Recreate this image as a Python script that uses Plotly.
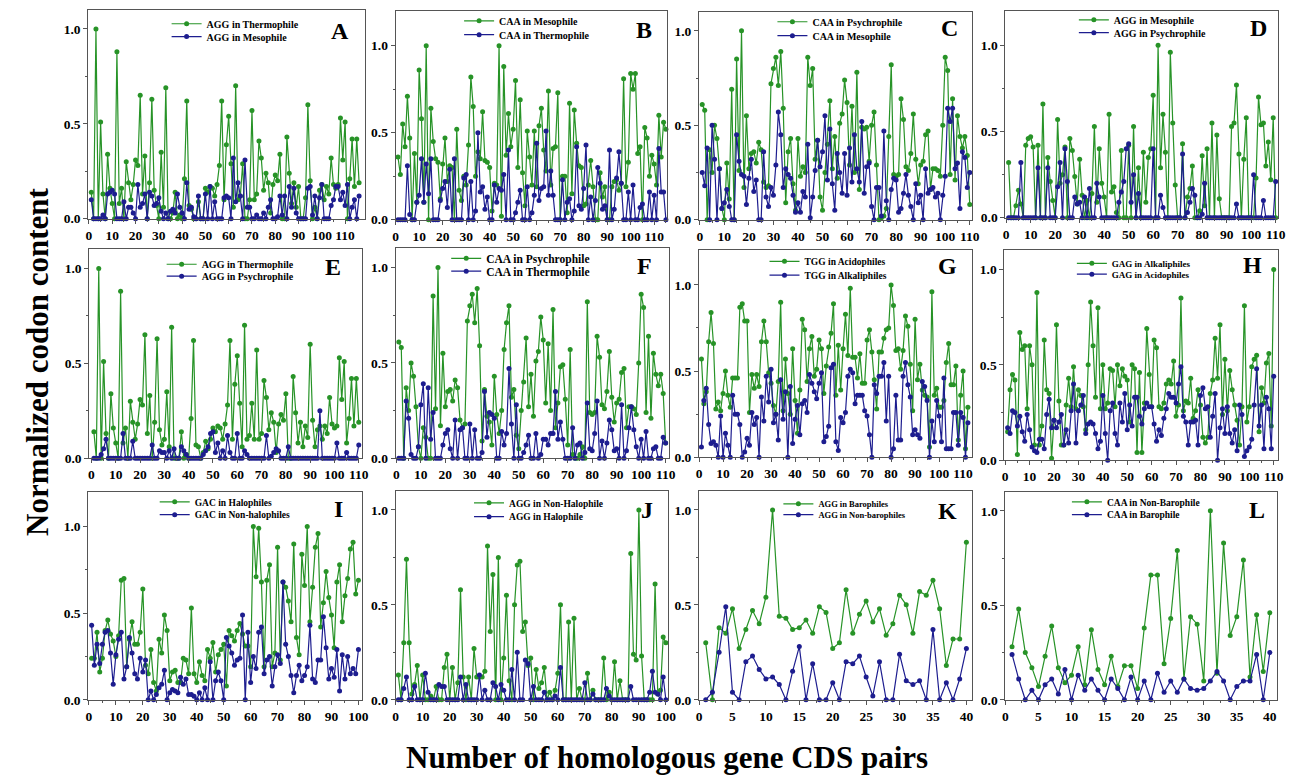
import plotly.graph_objects as go

W, H = 1299, 782

# ---------------- data ----------------
A_green = [0.14,0.0,1.0,0.0,0.51,0.13,0.0,0.34,0.16,0.08,0.0,0.88,0.08,0.16,0.0,0.30,0.19,0.10,0.18,0.31,
           0.28,0.65,0.13,0.33,0.0,0.19,0.63,0.15,0.07,0.0,0.35,0.06,0.69,0.0,0.0,0.03,0.14,0.0,0.02,0.0,
           0.21,0.62,0.07,0.05,0.0,0.0,0.09,0.0,0.0,0.16,0.14,0.17,0.16,0.12,0.18,0.28,0.62,0.10,0.39,0.54,
           0.29,0.06,0.70,0.10,0.12,0.29,0.0,0.0,0.10,0.57,0.10,0.13,0.41,0.32,0.15,0.24,0.19,0.03,0.18,0.23,
           0.20,0.34,0.0,0.0,0.43,0.24,0.08,0.19,0.06,0.17,0.0,0.0,0.11,0.60,0.20,0.0,0.06,0.0,0.15,0.18,
           0.10,0.17,0.13,0.32,0.18,0.16,0.18,0.53,0.31,0.51,0.0,0.21,0.42,0.17,0.42,0.19]
A_blue = [0.10,0.0,0.0,0.0,0.0,0.02,0.0,0.13,0.14,0.15,0.13,0.0,0.0,0.0,0.09,0.0,0.06,0.06,0.03,0.0,
          0.18,0.06,0.08,0.13,0.0,0.14,0.12,0.07,0.08,0.11,0.04,0.0,0.03,0.0,0.04,0.05,0.03,0.13,0.06,0.03,
          0.0,0.19,0.05,0.06,0.01,0.0,0.12,0.0,0.0,0.13,0.0,0.17,0.0,0.09,0.0,0.0,0.0,0.11,0.12,0.11,
          0.0,0.32,0.09,0.19,0.12,0.0,0.31,0.06,0.06,0.0,0.0,0.02,0.0,0.0,0.03,0.0,0.06,0.10,0.0,0.0,
          0.01,0.12,0.02,0.12,0.0,0.17,0.06,0.16,0.03,0.0,0.0,0.0,0.0,0.16,0.17,0.02,0.12,0.0,0.11,0.18,
          0.0,0.0,0.0,0.07,0.10,0.17,0.17,0.10,0.14,0.07,0.18,0.0,0.06,0.10,0.0,0.12]

B_green = [0.36,0.26,0.55,0.42,0.71,0.47,0.0,0.38,0.10,0.86,0.58,0.10,1.0,0.0,0.64,0.45,0.35,0.33,0.12,0.32,
           0.47,0.22,0.31,0.30,0.0,0.52,0.17,0.11,0.25,0.20,0.43,0.82,0.65,0.25,0.39,0.35,0.62,0.34,0.33,0.30,
           0.05,0.21,0.20,1.0,0.02,0.88,0.37,0.61,0.42,0.52,0.80,0.30,0.69,0.27,0.08,0.51,0.36,0.20,0.51,0.19,
           0.54,0.64,0.40,0.28,0.74,0.20,0.41,0.42,0.73,0.0,0.25,0.25,0.04,0.67,0.15,0.63,0.44,0.31,0.30,0.08,
           0.09,0.20,0.34,0.19,0.0,0.0,0.27,0.13,0.19,0.0,0.0,0.19,0.22,0.23,0.17,0.21,0.81,0.19,0.33,0.84,
           0.75,0.84,0.38,0.42,0.0,0.53,0.47,0.25,0.37,0.32,0.20,0.60,0.36,0.56,0.52]
B_blue = [0.0,0.0,0.0,0.0,0.31,0.03,0.0,0.0,0.10,0.14,0.35,0.10,0.32,0.15,0.35,0.0,0.0,0.0,0.11,0.18,
          0.22,0.07,0.29,0.0,0.35,0.0,0.0,0.0,0.24,0.26,0.0,0.22,0.0,0.05,0.50,0.16,0.19,0.06,0.13,0.0,
          0.0,0.20,0.10,0.18,0.17,0.26,0.0,0.40,0.0,0.0,0.04,0.10,0.17,0.0,0.0,0.19,0.0,0.04,0.14,0.44,
          0.11,0.18,0.19,0.51,0.14,0.28,0.14,0.0,0.0,0.0,0.23,0.0,0.10,0.12,0.0,0.05,0.42,0.08,0.06,0.18,
          0.43,0.0,0.13,0.0,0.11,0.30,0.21,0.06,0.08,0.0,0.40,0.0,0.06,0.24,0.39,0.21,0.0,0.0,0.16,0.0,
          0.20,0.0,0.0,0.07,0.09,0.0,0.0,0.16,0.0,0.14,0.0,0.41,0.16,0.16,0.0]

C_green = [0.61,0.58,0.0,0.37,0.25,0.50,0.43,0.27,0.06,0.0,0.30,0.11,0.69,0.0,0.85,0.26,1.0,0.17,0.55,0.27,
           0.35,0.36,0.30,0.41,0.37,0.20,0.17,0.18,0.72,0.80,0.86,0.71,0.89,0.59,0.09,0.36,0.43,0.19,0.05,0.43,
           0.23,0.28,0.25,0.86,0.71,0.80,0.32,0.42,0.12,0.05,0.25,0.40,0.63,0.27,0.44,0.22,0.51,0.56,0.74,0.62,
           0.29,0.60,0.25,0.78,0.16,0.49,0.48,0.49,0.31,0.50,0.57,0.29,0.0,0.01,0.02,0.06,0.44,0.82,0.24,0.23,
           0.24,0.64,0.53,0.28,0.26,0.35,0.56,0.32,0.19,0.29,0.31,0.45,0.47,0.16,0.27,0.27,0.26,0.23,0.50,0.86,
           0.79,0.24,0.64,0.21,0.55,0.44,0.38,0.44,0.34,0.08]
C_blue = [0.25,0.18,0.38,0.0,0.50,0.32,0.0,0.27,0.06,0.09,0.16,0.07,0.0,0.0,0.45,0.31,0.24,0.23,0.08,0.22,
          0.32,0.15,0.21,0.0,0.0,0.36,0.12,0.07,0.17,0.13,0.29,0.57,0.45,0.17,0.27,0.24,0.22,0.13,0.04,0.09,
          0.04,0.15,0.12,0.40,0.01,0.12,0.26,0.42,0.28,0.36,0.55,0.21,0.48,0.19,0.05,0.35,0.25,0.14,0.35,0.13,
          0.38,0.20,0.45,0.27,0.20,0.52,0.14,0.28,0.30,0.07,0.0,0.17,0.17,0.02,0.47,0.10,0.0,0.16,0.22,0.21,
          0.04,0.06,0.14,0.24,0.13,0.07,0.0,0.19,0.09,0.13,0.0,0.27,0.14,0.16,0.17,0.12,0.14,0.0,0.13,0.23,
          0.59,0.52,0.59,0.27,0.30,0.06,0.36,0.33,0.17,0.25]

D_green = [0.32,0.0,0.0,0.07,0.16,0.08,0.0,0.42,0.46,0.47,0.41,0.0,0.42,0.0,0.66,0.0,0.35,0.21,0.10,0.0,
           0.57,0.20,0.25,0.41,0.0,0.46,0.39,0.24,0.08,0.34,0.13,0.0,0.10,0.0,0.14,0.53,0.09,0.40,0.20,0.12,
           0.0,0.60,0.15,0.18,0.03,0.0,0.39,0.0,0.0,0.42,0.0,0.53,0.0,0.29,0.0,0.38,0.09,0.35,0.40,0.71,
           0.0,1.0,0.29,0.60,0.38,0.0,0.96,0.55,0.19,0.0,0.0,0.43,0.0,0.12,0.17,0.30,0.0,0.0,0.04,0.36,
           0.07,0.40,0.0,0.55,0.0,0.48,0.11,0.0,0.0,0.0,0.0,0.53,0.55,0.77,0.37,0.0,0.34,0.58,0.0,0.0,
           0.0,0.23,0.70,0.54,0.55,0.30,0.44,0.22,0.58,0.0]
D_blue = [0.0,0.0,0.0,0.0,0.0,0.32,0.0,0.0,0.0,0.0,0.0,0.0,0.29,0.0,0.0,0.0,0.29,0.0,0.0,0.0,
          0.18,0.32,0.0,0.40,0.21,0.0,0.0,0.12,0.08,0.09,0.0,0.12,0.0,0.17,0.0,0.0,0.20,0.12,0.0,0.0,
          0.0,0.0,0.0,0.0,0.0,0.09,0.15,0.21,0.40,0.43,0.09,0.25,0.0,0.14,0.0,0.0,0.0,0.0,0.0,0.40,
          0.0,0.0,0.13,0.06,0.0,0.0,0.0,0.0,0.0,0.0,0.0,0.37,0.0,0.03,0.09,0.17,0.13,0.0,0.0,0.02,
          0.20,0.0,0.0,0.0,0.0,0.0,0.0,0.0,0.0,0.0,0.0,0.0,0.0,0.08,0.0,0.0,0.0,0.0,0.0,0.0,
          0.25,0.0,0.0,0.0,0.10,0.0,0.0,0.0,0.0,0.21]

E_green = [0.14,0.0,1.0,0.0,0.51,0.13,0.0,0.34,0.16,0.08,0.0,0.88,0.08,0.16,0.0,0.30,0.19,0.10,0.18,0.31,
           0.28,0.65,0.13,0.33,0.0,0.19,0.63,0.15,0.07,0.10,0.35,0.06,0.69,0.0,0.0,0.0,0.14,0.0,0.02,0.0,
           0.21,0.62,0.07,0.06,0.0,0.03,0.09,0.05,0.10,0.16,0.14,0.17,0.16,0.10,0.18,0.28,0.62,0.10,0.39,0.54,
           0.29,0.06,0.70,0.10,0.12,0.29,0.10,0.57,0.10,0.13,0.41,0.32,0.15,0.24,0.19,0.03,0.18,0.23,0.20,0.34,
           0.0,0.0,0.43,0.24,0.08,0.19,0.06,0.17,0.11,0.60,0.20,0.06,0.15,0.17,0.10,0.17,0.13,0.32,0.18,0.16,
           0.17,0.53,0.31,0.51,0.08,0.21,0.42,0.17,0.42,0.19]
E_blue = [0.0,0.0,0.0,0.02,0.05,0.10,0.0,0.0,0.0,0.0,0.0,0.0,0.13,0.0,0.0,0.0,0.09,0.0,0.0,0.0,
          0.0,0.0,0.0,0.0,0.07,0.0,0.0,0.04,0.03,0.03,0.0,0.04,0.0,0.05,0.0,0.0,0.06,0.04,0.02,0.0,
          0.0,0.0,0.0,0.0,0.0,0.02,0.04,0.06,0.13,0.14,0.03,0.08,0.0,0.04,0.0,0.12,0.03,0.0,0.0,0.13,
          0.0,0.0,0.04,0.02,0.0,0.0,0.0,0.0,0.0,0.0,0.0,0.12,0.0,0.01,0.03,0.05,0.04,0.0,0.0,0.0,
          0.06,0.0,0.0,0.0,0.0,0.0,0.0,0.0,0.0,0.0,0.0,0.0,0.0,0.25,0.0,0.0,0.0,0.0,0.0,0.0,
          0.08,0.0,0.0,0.0,0.03,0.0,0.0,0.0,0.0,0.07]

F_green = [0.61,0.58,0.0,0.37,0.25,0.50,0.43,0.27,0.06,0.0,0.16,0.11,0.0,0.0,0.85,0.26,1.0,0.17,0.55,0.27,
           0.35,0.36,0.30,0.41,0.37,0.20,0.16,0.18,0.72,0.80,0.86,0.71,0.89,0.59,0.09,0.36,0.22,0.19,0.07,0.43,
           0.23,0.13,0.25,0.57,0.71,0.80,0.32,0.36,0.12,0.05,0.25,0.40,0.63,0.27,0.44,0.22,0.51,0.56,0.74,0.62,
           0.29,0.60,0.25,0.78,0.16,0.29,0.48,0.49,0.31,0.07,0.57,0.02,0.0,0.0,0.02,0.06,0.0,0.82,0.24,0.23,
           0.24,0.64,0.53,0.28,0.26,0.35,0.56,0.32,0.19,0.29,0.31,0.45,0.47,0.16,0.27,0.27,0.26,0.23,0.50,0.86,
           0.79,0.24,0.64,0.21,0.55,0.44,0.38,0.44,0.34,0.08]
F_blue = [0.0,0.0,0.0,0.30,0.21,0.02,0.0,0.0,0.06,0.28,0.39,0.0,0.37,0.10,0.24,0.0,0.0,0.0,0.07,0.13,
          0.15,0.05,0.0,0.20,0.0,0.15,0.16,0.0,0.0,0.18,0.0,0.15,0.0,0.0,0.03,0.35,0.11,0.24,0.23,0.21,
          0.0,0.0,0.14,0.07,0.13,0.47,0.18,0.0,0.28,0.0,0.0,0.03,0.07,0.12,0.0,0.0,0.13,0.0,0.02,0.10,
          0.10,0.07,0.13,0.13,0.35,0.10,0.19,0.10,0.0,0.0,0.0,0.16,0.0,0.07,0.08,0.0,0.03,0.29,0.05,0.04,
          0.13,0.30,0.0,0.09,0.0,0.08,0.20,0.15,0.04,0.05,0.0,0.28,0.0,0.04,0.16,0.27,0.15,0.06,0.0,0.10,
          0.0,0.14,0.0,0.0,0.05,0.06,0.0,0.0,0.11,0.08]

G_green = [0.57,0.31,0.38,0.67,0.84,0.66,0.28,0.32,0.27,0.37,0.50,0.36,0.29,0.46,0.46,0.46,0.87,0.89,0.79,0.79,
           0.26,0.48,0.40,0.48,0.41,0.67,0.79,0.67,0.49,0.43,0.30,0.25,0.44,0.90,0.27,0.57,0.37,0.25,0.63,0.33,
           0.14,0.39,0.80,0.74,0.44,0.63,0.70,0.47,0.51,0.68,0.63,0.37,0.53,0.64,0.72,0.89,0.36,0.65,0.39,0.63,
           0.83,0.59,0.98,0.58,0.58,0.46,0.60,0.43,0.43,0.68,0.74,0.61,0.45,0.28,0.61,0.61,0.69,0.74,0.75,1.0,
           0.88,0.62,0.63,0.51,0.62,0.82,0.76,0.54,0.27,0.80,0.45,0.54,0.39,0.36,0.35,0.06,0.96,0.36,0.40,0.29,
           0.29,0.33,0.55,0.66,0.42,0.42,0.53,0.10,0.36,0.50,0.05,0.29]
G_blue = [0.06,0.33,0.40,0.19,0.08,0.09,0.07,0.0,0.24,0.0,0.14,0.07,0.0,0.36,0.25,0.25,0.19,0.0,0.03,0.11,
          0.07,0.26,0.19,0.23,0.0,0.35,0.21,0.47,0.32,0.51,0.20,0.25,0.10,0.45,0.22,0.38,0.0,0.41,0.08,0.22,
          0.30,0.13,0.31,0.33,0.26,0.48,0.43,0.38,0.34,0.43,0.49,0.09,0.12,0.18,0.52,0.54,0.09,0.04,0.23,0.20,
          0.26,0.47,0.51,0.49,0.31,0.36,0.36,0.36,0.27,0.24,0.13,0.0,0.42,0.37,0.47,0.47,0.55,0.21,0.47,0.0,
          0.05,0.36,0.10,0.10,0.47,0.55,0.42,0.35,0.13,0.16,0.13,0.11,0.44,0.41,0.33,0.0,0.21,0.09,0.33,0.24,
          0.09,0.46,0.05,0.05,0.05,0.26,0.26,0.07,0.26,0.23,0.0,0.20]

H_green = [0.15,0.37,0.45,0.42,0.03,0.67,0.58,0.60,0.27,0.60,0.50,0.08,0.88,0.08,0.18,0.63,0.37,0.35,0.01,0.21,
           0.71,0.31,0.08,0.08,0.29,0.43,0.28,0.49,0.27,0.37,0.34,0.28,0.16,0.50,0.83,0.60,0.33,0.80,0.27,0.50,
           0.27,0.30,0.48,0.47,0.28,0.50,0.39,0.48,0.44,0.42,0.20,0.50,0.48,0.04,0.46,0.04,0.30,0.69,0.45,0.28,
           0.63,0.59,0.28,0.27,0.30,0.40,0.42,0.40,0.52,0.23,0.29,0.85,0.26,0.31,0.30,0.43,0.22,0.26,0.37,0.29,
           0.12,0.09,0.12,0.35,0.42,0.64,0.43,0.71,0.24,0.53,0.26,0.47,0.37,0.29,0.21,0.08,0.28,0.81,0.20,0.28,
           0.49,0.53,0.55,0.15,0.38,0.30,0.51,0.56,0.18,1.0]
H_blue = [0.17,0.14,0.26,0.25,0.18,0.23,0.15,0.10,0.24,0.16,0.07,0.05,0.04,0.11,0.11,0.06,0.24,0.32,0.17,0.21,
          0.17,0.20,0.24,0.08,0.16,0.09,0.26,0.40,0.09,0.26,0.29,0.34,0.14,0.19,0.20,0.19,0.14,0.06,0.10,0.34,
          0.14,0.0,0.26,0.30,0.14,0.08,0.30,0.20,0.35,0.16,0.29,0.18,0.33,0.33,0.23,0.19,0.27,0.30,0.28,0.28,
          0.19,0.10,0.16,0.13,0.22,0.27,0.35,0.33,0.33,0.30,0.40,0.49,0.23,0.20,0.08,0.20,0.20,0.21,0.08,0.34,
          0.38,0.27,0.28,0.12,0.23,0.35,0.0,0.17,0.27,0.14,0.28,0.14,0.09,0.16,0.05,0.29,0.24,0.02,0.05,0.07,
          0.11,0.29,0.48,0.18,0.29,0.06,0.33,0.27,0.06,0.44]

I_green = [0.24,0.24,0.39,0.16,0.24,0.40,0.46,0.38,0.34,0.25,0.37,0.69,0.70,0.19,0.35,0.45,0.32,0.32,0.39,0.64,
           0.20,0.15,0.29,0.10,0.05,0.35,0.27,0.49,0.40,0.11,0.16,0.17,0.10,0.10,0.24,0.23,0.15,0.53,0.15,0.10,
           0.22,0.14,0.11,0.29,0.24,0.33,0.16,0.26,0.29,0.32,0.08,0.40,0.37,0.34,0.40,0.44,0.38,0.31,0.31,0.19,
           1.0,0.71,0.99,0.68,0.19,0.69,0.78,0.19,0.27,0.88,0.23,0.68,0.65,0.57,0.45,0.90,0.36,0.26,0.84,0.66,
           1.0,0.45,0.65,0.88,0.96,0.42,0.56,0.74,0.59,0.49,0.30,0.68,0.78,0.45,0.60,0.70,0.87,0.91,0.61,0.69]
I_blue = [0.43,0.20,0.32,0.21,0.32,0.39,0.40,0.27,0.09,0.26,0.35,0.39,0.12,0.19,0.36,0.27,0.15,0.12,0.24,0.16,
          0.23,0.0,0.05,0.0,0.03,0.07,0.09,0.17,0.0,0.04,0.06,0.05,0.04,0.13,0.09,0.12,0.03,0.03,0.02,0.0,
          0.04,0.0,0.07,0.0,0.22,0.0,0.11,0.16,0.11,0.0,0.36,0.31,0.27,0.20,0.23,0.24,0.49,0.0,0.39,0.10,
          0.25,0.18,0.39,0.42,0.15,0.23,0.25,0.08,0.19,0.26,0.21,0.68,0.32,0.25,0.14,0.04,0.14,0.20,0.11,0.14,
          0.19,0.43,0.12,0.10,0.23,0.23,0.48,0.30,0.12,0.18,0.13,0.29,0.05,0.26,0.12,0.25,0.15,0.18,0.15,0.29]

J_green = [0.13,0.0,0.30,0.74,0.30,0.03,0.08,0.18,0.0,0.13,0.0,0.0,0.02,0.0,0.07,0.0,0.0,0.17,0.24,0.0,
           0.17,0.0,0.09,0.58,0.12,0.0,0.12,0.0,0.27,0.12,0.12,0.12,0.15,0.81,0.36,0.66,0.0,0.75,0.0,0.22,
           0.55,0.10,0.0,0.50,0.71,0.73,0.36,0.41,0.18,0.22,0.0,0.16,0.06,0.09,0.17,0.0,0.04,0.0,0.05,0.14,
           0.50,0.0,0.0,0.41,0.0,0.43,0.0,0.06,0.0,0.0,0.14,0.0,0.05,0.0,0.0,0.0,0.22,0.0,0.04,0.0,
           0.20,0.0,0.10,0.0,0.0,0.0,0.77,0.24,0.21,1.0,0.23,0.0,0.0,0.0,0.0,0.61,0.03,0.05,0.33,0.30]
J_blue = [0.0,0.0,0.06,0.12,0.0,0.0,0.07,0.0,0.0,0.0,0.14,0.04,0.0,0.0,0.0,0.08,0.07,0.07,0.0,0.0,
          0.0,0.0,0.0,0.12,0.0,0.08,0.0,0.0,0.0,0.0,0.13,0.0,0.05,0.0,0.0,0.09,0.07,0.0,0.08,0.05,
          0.0,0.0,0.16,0.0,0.25,0.0,0.0,0.21,0.19,0.0,0.07,0.0,0.0,0.0,0.04,0.0,0.0,0.0,0.02,0.0,
          0.17,0.0,0.0,0.0,0.0,0.0,0.0,0.0,0.0,0.09,0.0,0.0,0.03,0.0,0.0,0.0,0.0,0.06,0.02,0.0,
          0.0,0.0,0.0,0.0,0.0,0.0,0.07,0.0,0.0,0.0,0.0,0.0,0.0,0.04,0.15,0.04,0.03,0.0,0.12,0.0]

K_green = [0.30,0.0,0.38,0.35,0.48,0.27,0.37,0.47,0.40,0.54,1.0,0.44,0.43,0.37,0.38,0.42,0.35,0.49,0.46,0.27,
           0.30,0.58,0.35,0.45,0.52,0.41,0.48,0.34,0.40,0.55,0.50,0.35,0.57,0.55,0.63,0.48,0.18,0.32,0.32,0.83]
K_blue = [0.0,0.04,0.25,0.49,0.04,0.0,0.20,0.23,0.16,0.11,0.12,0.08,0.0,0.15,0.28,0.0,0.19,0.0,0.0,0.09,
          0.0,0.20,0.19,0.23,0.12,0.02,0.20,0.0,0.0,0.24,0.10,0.08,0.10,0.0,0.37,0.0,0.09,0.0,0.11,0.27]

L_green = [0.28,0.48,0.25,0.17,0.07,0.23,0.39,0.17,0.09,0.13,0.28,0.08,0.37,0.16,0.08,0.23,0.07,0.18,0.18,0.06,
           0.38,0.66,0.66,0.19,0.43,0.79,0.11,0.44,0.40,0.10,1.0,0.14,0.83,0.34,0.44,0.74,0.12,0.45,0.15,0.46]
L_blue = [0.24,0.11,0.0,0.05,0.0,0.08,0.11,0.03,0.16,0.0,0.13,0.05,0.11,0.05,0.0,0.11,0.06,0.0,0.12,0.0,
          0.10,0.0,0.14,0.04,0.10,0.04,0.11,0.06,0.05,0.06,0.10,0.15,0.10,0.0,0.07,0.10,0.10,0.24,0.0,0.25]

panel_letters = ["A","B","C","D","E","F","G","H","I","J","K","L"]
green_names = ["AGG in Thermophile","CAA in Mesophile","CAA in Psychrophile","AGG in Mesophile",
               "AGG in Thermophile","CAA in Psychrophile","TGG in Acidophiles","GAG in Alkaliphiles",
               "GAC in Halophiles","AGG in Non-Halophile","AGG in Barophiles","CAA in Non-Barophile"]
blue_names = ["AGG in Mesophile","CAA in Thermophile","CAA in Mesophile","AGG in Psychrophile",
              "AGG in Psychrophile","CAA in Thermophile","TGG in Alkaliphiles","GAG in Acidophiles",
              "GAC in Non-halophiles","AGG in Halophile","AGG in Non-barophiles","CAA in Barophile"]
green_series = [A_green,B_green,C_green,D_green,E_green,F_green,G_green,H_green,I_green,J_green,K_green,L_green]
blue_series = [A_blue,B_blue,C_blue,D_blue,E_blue,F_blue,G_blue,H_blue,I_blue,J_blue,K_blue,L_blue]
y_tick_values = [0.0, 0.5, 1.0]
y_tick_labels = ["0.0", "0.5", "1.0"]

# ---------------- layout (pixels) ----------------
frames = [  # x0, x1, y0(top), y1(bottom)
    (86, 365, 10, 221), (396, 670, 11, 222), (702, 977, 12, 222), (1011, 1286, 11, 220),
    (87, 362, 252, 463), (396, 672, 251, 463), (702, 977, 253, 462), (1010, 1286, 253, 465),
    (86, 362, 497, 707), (396, 671, 496, 707), (702, 977, 496, 707), (1011, 1285, 497, 707)]
xranges = [[-0.3, 118.5], [0, 115.6], [-0.3, 110.8], [-0.3, 111], [-0.9, 111.3], [-0.3, 111.5],
           [0, 113.6], [-0.3, 111.8], [-0.25, 101.3], [0, 100.9], [0, 40.8], [0, 41.1]]
yranges = [[0, 1.1], [0, 1.2], [0, 1.1], [0, 1.2], [0, 1.1], [0, 1.1],
           [0, 1.2], [0, 1.1], [0, 1.2], [0, 1.1], [0, 1.1], [0, 1.1]]
xdticks = [10]*10 + [5, 5]
letter_pos = [(340, 31), (646, 30), (955, 28), (1266, 28), (333, 270), (647, 269), (953, 269), (1260, 268),
              (338, 514), (649, 515), (953, 516), (1265, 515)]
legend_text_x = [205, 500, 816, 1120, 200, 487, 808, 1118, 193, 510, 822, 1113]
legend_y = [(24, 37), (21, 35), (22, 36), (20, 33), (267, 279), (261, 274), (264, 278), (266, 277),
            (507, 520), (508, 522), (509, 520), (507, 520)]
legend_fs = [10, 10, 10, 10, 10, 11.5, 9.5, 9, 9.5, 9.5, 8.5, 9.5]

GREEN = "#279327"
BLUE = "#1d1d8f"
SERIF = "Liberation Serif"
FRAME = "#555555"

fig = go.Figure()
layout = dict(width=W, height=H, margin=dict(l=0, r=0, t=0, b=0),
              paper_bgcolor="white", plot_bgcolor="white", showlegend=True,
              font=dict(family=SERIF, color="black"))
annotations = []

for k in range(12):
    n = k + 1
    xa = "xaxis" if n == 1 else f"xaxis{n}"
    ya = "yaxis" if n == 1 else f"yaxis{n}"
    xref = "x" if n == 1 else f"x{n}"
    yref = "y" if n == 1 else f"y{n}"
    x0, x1, y0, y1 = frames[k]
    layout[xa] = dict(domain=[x0 / W, x1 / W], range=xranges[k], anchor=yref,
                      showline=True, mirror=True, linecolor=FRAME, linewidth=1,
                      ticks="outside", ticklen=4, tickwidth=1, tickcolor=FRAME,
                      dtick=xdticks[k], tick0=0, showgrid=False, zeroline=False,
                      minor=dict(ticks="outside", ticklen=2, tickcolor=FRAME, dtick=xdticks[k] / 2),
                      tickfont=dict(family=SERIF, size=13.5, color="black", weight="bold"))
    layout[ya] = dict(domain=[1 - y1 / H, 1 - y0 / H], range=yranges[k], anchor=xref,
                      showline=True, mirror=True, linecolor=FRAME, linewidth=1,
                      ticks="outside", ticklen=4, tickwidth=1, tickcolor=FRAME,
                      tickvals=y_tick_values, ticktext=y_tick_labels, showgrid=False, zeroline=False,
                      minor=dict(ticks="outside", ticklen=2, tickcolor=FRAME, tickvals=[0.25, 0.75]),
                      tickfont=dict(family=SERIF, size=13.5, color="black", weight="bold"))
    for j, (series, name, color) in enumerate([(green_series[k], green_names[k], GREEN),
                                               (blue_series[k], blue_names[k], BLUE)]):
        lidx = 2 * k + j + 1
        lname = "legend" if lidx == 1 else f"legend{lidx}"
        fig.add_trace(go.Scatter(
            x=list(range(1, len(series) + 1)), y=series, name=name, mode="lines+markers",
            line=dict(color=color, width=1.2), marker=dict(color=color, size=5),
            xaxis=xref, yaxis=yref, legend=lname, cliponaxis=False))
        layout[lname] = dict(x=(legend_text_x[k] - 40) / W, xanchor="left",
                             y=1 - legend_y[k][j] / H, yanchor="middle",
                             bgcolor="rgba(0,0,0,0)", borderwidth=0,
                             font=dict(family=SERIF, size=legend_fs[k], color="black", weight="bold"),
                             itemwidth=30, tracegroupgap=0)
    lx, ly = letter_pos[k]
    annotations.append(dict(text=panel_letters[k], x=lx / W, y=1 - ly / H, xref="paper", yref="paper",
                            showarrow=False, xanchor="center", yanchor="middle",
                            font=dict(family=SERIF, size=24, color="black", weight="bold")))

annotations.append(dict(text="Normalized codon content", x=35 / W, y=1 - 365 / H, xref="paper", yref="paper",
                        showarrow=False, textangle=-90, xanchor="center", yanchor="middle",
                        font=dict(family=SERIF, size=31, color="black", weight="bold")))
annotations.append(dict(text="Number of homologous gene CDS pairs", x=670 / W, y=1 - 765 / H,
                        xref="paper", yref="paper", showarrow=False, xanchor="center", yanchor="middle",
                        font=dict(family=SERIF, size=31, color="black", weight="bold")))
layout["annotations"] = annotations
fig.update_layout(**layout)

fig.write_html("out.html", config={"displayModeBar": False},
               post_script="document.body.style.margin='0';")
